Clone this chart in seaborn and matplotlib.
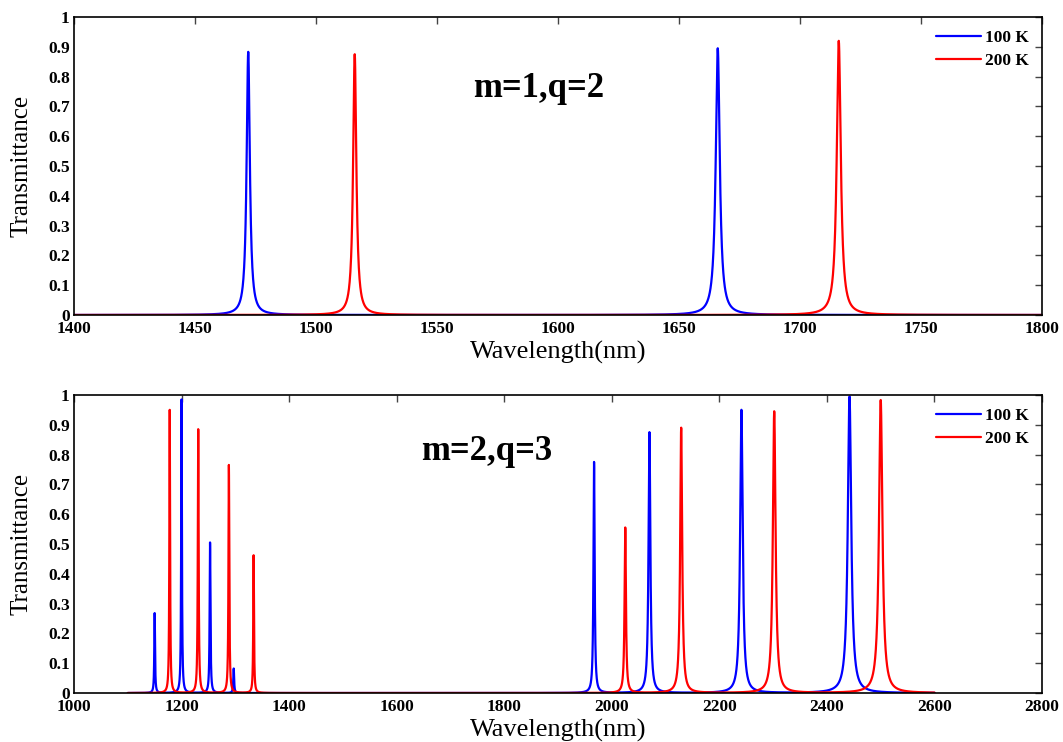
import numpy as np
import pandas as pd
import seaborn as sns
import matplotlib.pyplot as plt
from matplotlib.ticker import FuncFormatter

# Resonance peaks of the two cases: centre (nm), peak transmittance, half width (nm)
top_100K_center = [1472, 1666]
top_100K_height = [0.883, 0.895]
top_100K_width = [0.8, 1.0]
top_200K_center = [1516, 1716]
top_200K_height = [0.875, 0.920]
top_200K_width = [0.8, 1.0]

bot_100K_center = [1150, 1200, 1253, 1297, 1967, 2070, 2241, 2442]
bot_100K_height = [0.268, 0.985, 0.505, 0.082, 0.775, 0.875, 0.950, 0.995]
bot_100K_width = [0.8, 0.8, 0.9, 0.9, 1.3, 2.0, 2.8, 3.8]
bot_200K_center = [1178, 1231, 1288, 1334, 2025, 2129, 2302, 2500]
bot_200K_height = [0.950, 0.885, 0.765, 0.462, 0.555, 0.890, 0.945, 0.983]
bot_200K_width = [0.8, 0.9, 0.9, 0.8, 1.5, 2.2, 3.0, 3.8]

series_labels = ["100 K", "200 K"]
series_colors = {"100 K": "blue", "200 K": "red"}
panel_texts = ["m=1,q=2", "m=2,q=3"]
x_ranges = [(1400, 1800), (1000, 2800)]
data_ranges = [(1400, 1800), (1100, 2600)]
x_ticks = [list(range(1400, 1801, 50)), list(range(1000, 2801, 200))]
y_ticks = [round(0.1 * i, 1) for i in range(11)]


def spectrum(wl, centers, heights, widths):
    t = np.zeros_like(wl)
    for c, h, w in zip(centers, heights, widths):
        t += h / (1.0 + ((wl - c) / w) ** 2)
    return t


def panel_frame(lo, hi, peaks):
    wl = np.arange(lo, hi + 0.05, 0.1)
    frames = []
    for label, (c, h, w) in zip(series_labels, peaks):
        frames.append(pd.DataFrame({"Wavelength": wl,
                                    "T": spectrum(wl, c, h, w),
                                    "Temperature": label}))
    return pd.concat(frames, ignore_index=True)


panels = [
    panel_frame(*data_ranges[0], [(top_100K_center, top_100K_height, top_100K_width),
                                  (top_200K_center, top_200K_height, top_200K_width)]),
    panel_frame(*data_ranges[1], [(bot_100K_center, bot_100K_height, bot_100K_width),
                                  (bot_200K_center, bot_200K_height, bot_200K_width)]),
]

sns.set_theme(style="white")
plt.rcParams["font.family"] = ["Liberation Serif", "DejaVu Serif"]
plt.rcParams["text.color"] = "black"
plt.rcParams["axes.labelcolor"] = "black"
plt.rcParams["xtick.color"] = "black"
plt.rcParams["ytick.color"] = "black"

fig = plt.figure(figsize=(10.63, 7.42), dpi=100)
axes = [fig.add_axes([0.0696, 0.5755, 0.9107, 0.4016]),
        fig.add_axes([0.0696, 0.0660, 0.9107, 0.4016])]

text_pos = [(1592, 0.76), (1768, 0.81)]

for ax, df, xr, xt, txt, tp in zip(axes, panels, x_ranges, x_ticks, panel_texts, text_pos):
    sns.lineplot(data=df, x="Wavelength", y="T", hue="Temperature",
                 palette=series_colors, linewidth=1.6, ax=ax, estimator=None,
                 sort=False)
    ax.set_xlim(*xr)
    ax.set_ylim(0, 1)
    ax.set_xticks(xt)
    ax.set_yticks(y_ticks)
    ax.yaxis.set_major_formatter(FuncFormatter(lambda v, p: f"{v:g}"))
    ax.tick_params(direction="in", top=True, right=True, length=5, width=1,
                   color="#444444", labelcolor="black")
    ax.tick_params(axis="x", labelsize=12.5, pad=4)
    ax.tick_params(axis="y", labelsize=12.5, pad=3)
    for lab in ax.get_xticklabels() + ax.get_yticklabels():
        lab.set_fontweight("bold")
    for s in ax.spines.values():
        s.set_color("black")
        s.set_linewidth(1.2)
    ax.set_xlabel("Wavelength(nm)", fontsize=19, color="black")
    ax.set_ylabel("Transmittance", fontsize=18, color="black")
    ax.xaxis.set_label_coords(0.5, -0.088)
    ax.yaxis.set_label_coords(-0.043, 0.5)
    ax.text(tp[0], tp[1], txt, fontsize=25, fontweight="bold",
            ha="center", va="center", color="black")
    leg = ax.legend(loc="upper right", frameon=False, handlelength=2.6,
                    handletextpad=0.25, borderaxespad=0.35, labelspacing=0.4,
                    prop={"weight": "bold", "size": 12.5})
    for h in leg.get_lines():
        h.set_linewidth(1.6)
    for t in leg.get_texts():
        t.set_color("black")

fig.savefig("out.png", dpi=100, facecolor="white")
